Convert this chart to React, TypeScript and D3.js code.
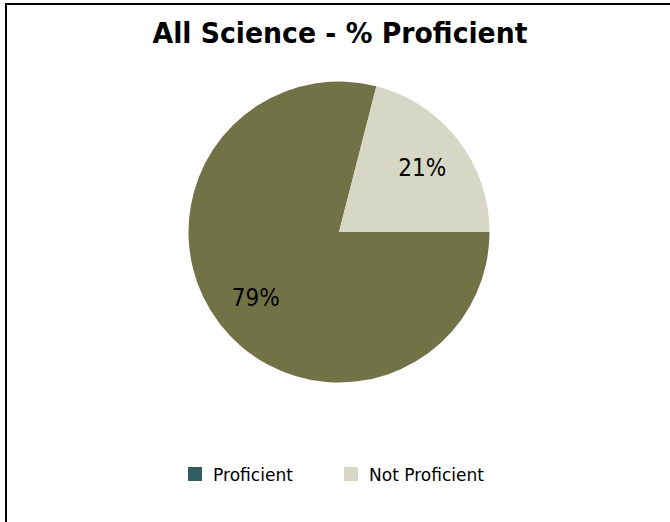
import React from "react";
import * as d3 from "d3";

const categories = ["Proficient", "Not Proficient"];
const values = [79, 21];
const sliceColors = ["#717246", "#D7D7C5"];
const legendColors = ["#325E63", "#D7D7C5"];
const title = "All Science - % Proficient";

const W = 670;
const H = 522;

export default function App() {
  const cx = 339;
  const cy = 232;
  const r = 150.5;
  const data = categories.map((c, i) => ({ cat: c, value: values[i] }));
  const pie = d3
    .pie<{ cat: string; value: number }>()
    .sort(null)
    .value((d) => d.value)
    .startAngle(Math.PI / 2)
    .endAngle(Math.PI / 2 + 2 * Math.PI);
  const arcs = pie(data);
  const arc = d3.arc<any>().innerRadius(0).outerRadius(r);
  const labelArc = d3.arc<any>().innerRadius(r * 0.7).outerRadius(r * 0.7);
  const total = d3.sum(values);
  const font = "'DejaVu Sans', Verdana, sans-serif";

  const legendX = [188, 344];
  return (
    <svg
      width={W}
      height={H}
      style={{ position: "absolute", left: 0, top: 0, background: "#fff" }}
    >
      <rect x={0} y={0} width={W} height={H} fill="#fff" />
      <line x1={6} y1={4} x2={W} y2={4} stroke="#000" strokeWidth={2} />
      <line x1={6} y1={3} x2={6} y2={H} stroke="#000" strokeWidth={2} />
      <text
        x={340}
        y={43}
        textAnchor="middle"
        fontFamily={font}
        fontWeight="bold"
        fontSize={27.5}
        textLength={375}
        lengthAdjust="spacingAndGlyphs"
        fill="#000"
      >
        {title}
      </text>
      <g transform={`translate(${cx},${cy})`}>
        {arcs.map((a, i) => (
          <path key={i} d={arc(a) as string} fill={sliceColors[i]} />
        ))}
        {arcs.map((a, i) => {
          const [lx, ly] = labelArc.centroid(a);
          return (
            <text
              key={"l" + i}
              x={lx}
              y={ly}
              dy="0.36em"
              textAnchor="middle"
              fontFamily={font}
              fontSize={25}
              textLength={48}
              lengthAdjust="spacingAndGlyphs"
              fill="#000"
            >
              {Math.round((values[i] / total) * 100) + "%"}
            </text>
          );
        })}
      </g>
      {categories.map((c, i) => (
        <g key={"lg" + i}>
          <rect x={legendX[i]} y={467} width={14} height={14} fill={legendColors[i]} />
          <text
            x={legendX[i] + 25}
            y={481}
            fontFamily={font}
            fontSize={18}
            textLength={i === 0 ? 80 : 115}
            lengthAdjust="spacingAndGlyphs"
            fill="#000"
          >
            {c}
          </text>
        </g>
      ))}
    </svg>
  );
}
